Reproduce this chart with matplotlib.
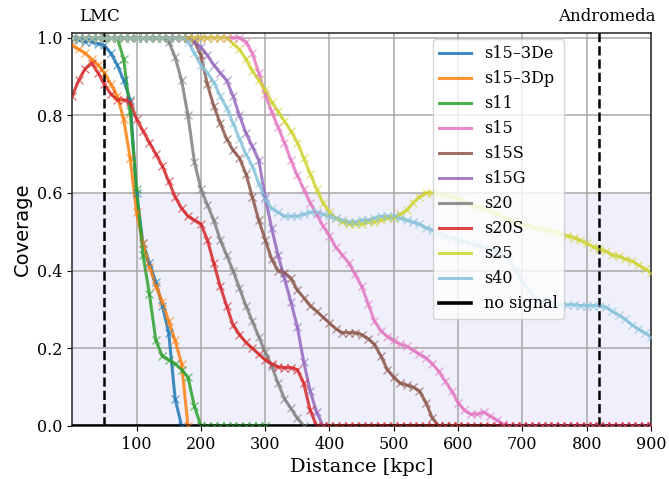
import numpy as np
import matplotlib
matplotlib.use('Agg')
import matplotlib.pyplot as plt

plt.rcParams['font.family'] = 'DejaVu Serif'

# coverage sampled every 10 kpc starting at 0
step = 10

s15_3De = [1.0, 0.995, 0.99, 0.99, 0.985, 0.98, 0.96, 0.93, 0.89, 0.84, 0.60,
           0.47, 0.42, 0.37, 0.31, 0.24, 0.07, 0.0]
s15_3Dp = [0.98, 0.97, 0.96, 0.945, 0.93, 0.91, 0.88, 0.85, 0.79, 0.69, 0.55,
           0.47, 0.41, 0.36, 0.32, 0.27, 0.22, 0.16, 0.0]
s11 = [1.0] * 8 + [0.945, 0.81, 0.61, 0.44, 0.34, 0.22, 0.18, 0.17, 0.16, 0.145,
                   0.125, 0.05, 0.0] + [0.0] * 10
s15 = [1.0] * 27 + [0.99, 0.96, 0.91, 0.855, 0.81, 0.77, 0.73, 0.685, 0.645, 0.61,
                    0.575, 0.545, 0.515, 0.49, 0.46, 0.44, 0.42, 0.39, 0.36, 0.315,
                    0.27, 0.245, 0.23, 0.22, 0.21, 0.205, 0.195, 0.185, 0.175, 0.16,
                    0.14, 0.115, 0.09, 0.06, 0.04, 0.03, 0.03, 0.035, 0.025, 0.015,
                    0.005, 0.0] + [0.0] * 22
s15S = [1.0] * 19 + [0.99, 0.955, 0.88, 0.825, 0.78, 0.74, 0.71, 0.69, 0.65, 0.59,
                     0.53, 0.48, 0.43, 0.40, 0.395, 0.38, 0.35, 0.33, 0.31, 0.295,
                     0.28, 0.265, 0.25, 0.24, 0.24, 0.24, 0.235, 0.225, 0.21, 0.18,
                     0.145, 0.125, 0.11, 0.105, 0.10, 0.09, 0.06, 0.02, 0.0] + [0.0] * 3
s15G = [1.0] * 19 + [0.99, 0.975, 0.955, 0.93, 0.91, 0.89, 0.85, 0.80, 0.755, 0.72,
                     0.685, 0.59, 0.51, 0.44, 0.38, 0.32, 0.255, 0.165, 0.09, 0.035,
                     0.0]
s20 = [1.0] * 15 + [0.99, 0.95, 0.89, 0.80, 0.68, 0.61, 0.57, 0.53, 0.48, 0.44,
                    0.40, 0.355, 0.31, 0.27, 0.23, 0.19, 0.155, 0.11, 0.07, 0.045,
                    0.02, 0.0]
s20S = [0.85, 0.89, 0.92, 0.935, 0.91, 0.88, 0.855, 0.84, 0.84, 0.835, 0.79, 0.76,
        0.73, 0.70, 0.67, 0.63, 0.59, 0.56, 0.54, 0.53, 0.52, 0.48, 0.42, 0.36,
        0.31, 0.26, 0.235, 0.215, 0.20, 0.185, 0.17, 0.16, 0.152, 0.15, 0.15,
        0.145, 0.11, 0.04, 0.0] + [0.0] * 52
s25 = [1.0] * 25 + [0.985, 0.97, 0.945, 0.915, 0.89, 0.865, 0.835, 0.81, 0.785, 0.76,
                    0.73, 0.69, 0.65, 0.61, 0.575, 0.55, 0.535, 0.525, 0.52, 0.52,
                    0.52, 0.525, 0.525, 0.53, 0.535, 0.535, 0.545, 0.555, 0.575, 0.59,
                    0.60, 0.60, 0.598, 0.595, 0.59, 0.585, 0.578, 0.57, 0.565, 0.56,
                    0.553, 0.545, 0.538, 0.53, 0.525, 0.52, 0.515, 0.51, 0.508, 0.505,
                    0.50, 0.495, 0.49, 0.485, 0.478, 0.47, 0.462, 0.455, 0.45, 0.44,
                    0.437, 0.43, 0.425, 0.415, 0.405, 0.395]
s40 = [1.0] * 18 + [0.99, 0.96, 0.93, 0.91, 0.885, 0.85, 0.82, 0.78, 0.74, 0.70,
                    0.67, 0.625, 0.585, 0.56, 0.55, 0.54, 0.54, 0.54, 0.545, 0.55,
                    0.55, 0.545, 0.54, 0.535, 0.53, 0.525, 0.525, 0.53, 0.53, 0.535,
                    0.54, 0.54, 0.54, 0.535, 0.53, 0.525, 0.52, 0.51, 0.505, 0.495,
                    0.49, 0.485, 0.48, 0.475, 0.47, 0.465, 0.46, 0.455, 0.45, 0.44,
                    0.43, 0.40, 0.37, 0.35, 0.33, 0.32, 0.315, 0.313, 0.312, 0.312,
                    0.312, 0.31, 0.31, 0.31, 0.31, 0.305, 0.295, 0.285, 0.275, 0.26,
                    0.25, 0.24, 0.23]

names = ['s15\u20133De', 's15\u20133Dp', 's11', 's15', 's15S', 's15G', 's20', 's20S', 's25', 's40']
series = [s15_3De, s15_3Dp, s11, s15, s15S, s15G, s20, s20S, s25, s40]
colors = ['#1f77b4', '#ff7f0e', '#2ca02c', '#e377c2', '#8c564b', '#9467bd',
          '#7f7f7f', '#d62728', '#d0d431', '#86c2da']

lmc = 50
andromeda = 820

fig = plt.figure(figsize=(6.69, 4.79), dpi=100)
ax = fig.add_axes([0.108, 0.111, 0.865, 0.820])

ax.axhspan(0, 0.6, color='#e6e6fa', alpha=0.6, lw=0, zorder=0)

for name, y, c in zip(names, series, colors):
    x = np.arange(len(y)) * step
    ax.plot(x, y, '-', color=c, lw=2.2, alpha=0.85, label=name, zorder=2)
    ax.plot(x, y, 'x', color=c, ms=5.5, mew=1.0, alpha=0.6, zorder=4)

ax.axhline(0, color='k', lw=2.6, label='no signal', zorder=3)
ax.axvline(lmc, color='k', ls='--', lw=1.8, zorder=3)
ax.axvline(andromeda, color='k', ls='--', lw=1.8, zorder=3)

ax.text(42, 1.055, 'LMC', ha='center', va='center', fontsize=12)
ax.text(831, 1.055, 'Andromeda', ha='center', va='center', fontsize=12)

ax.set_xlim(0, 900)
ax.set_ylim(0, 1.012)
ax.set_xticks([100, 200, 300, 400, 500, 600, 700, 800, 900])
ax.set_yticks([0.0, 0.2, 0.4, 0.6, 0.8, 1.0])
ax.tick_params(labelsize=11.5)
ax.grid(True, color='#a8a8a8', lw=1.1, zorder=1)
ax.set_axisbelow(True)
for sp in ax.spines.values():
    sp.set_color('#333333')
    sp.set_linewidth(1.2)

ax.set_xlabel('Distance [kpc]', fontsize=14)
ax.set_ylabel('Coverage', fontsize=14, family='DejaVu Sans')

ax.legend(loc='upper right', bbox_to_anchor=(0.85, 0.985), borderaxespad=0,
          fontsize=11.5, labelspacing=0.5, handlelength=2.0)

fig.savefig('out.png', dpi=100)
